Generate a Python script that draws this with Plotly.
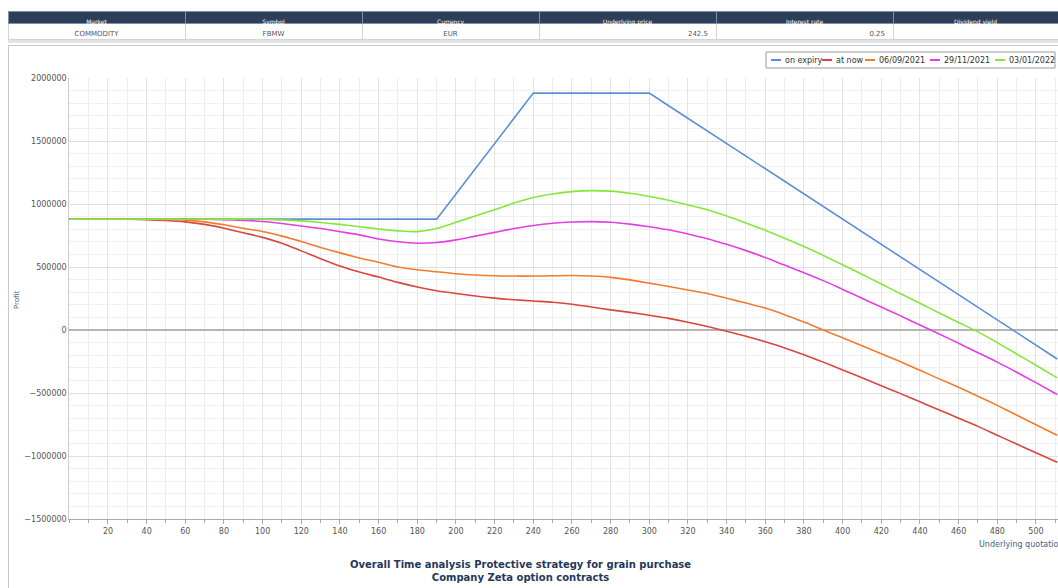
import plotly.graph_objects as go

# ---------------- data ----------------
TABLE_HEADERS = ["Market", "Symbol", "Currency", "Underlying price", "Interest rate", "Dividend yield"]
TABLE_VALUES = ["COMMODITY", "FBMW", "EUR", "242.5", "0.25", ""]

X_QUOT = [0, 10, 20, 30, 40, 50, 60, 70, 80, 90, 100, 110, 120, 130, 140, 150, 160, 170, 180, 190,
          200, 210, 220, 230, 240, 250, 260, 270, 280, 290, 300, 310, 320, 330, 340, 350, 360, 370,
          380, 390, 400, 410, 420, 430, 440, 450, 460, 470, 480, 490, 500, 511]

ON_EXPIRY = [880000, 880000, 880000, 880000, 880000, 880000, 880000, 880000, 880000, 880000,
             880000, 880000, 880000, 880000, 880000, 880000, 880000, 880000, 880000, 880000,
             1080000, 1280000, 1480000, 1680000, 1880000, 1880000, 1880000, 1880000, 1880000, 1880000,
             1880000, 1780000, 1680000, 1580000, 1480000, 1380000, 1280000, 1180000, 1080000, 980000,
             880000, 780000, 680000, 580000, 480000, 380000, 280000, 180000, 80000, -20000,
             -120000, -230000]

AT_NOW = [880000, 880000, 880000, 879000, 876000, 869000, 858000, 838000, 808000, 772000,
          735000, 688000, 628000, 566000, 508000, 460000, 420000, 378000, 342000, 312000,
          290000, 270000, 253000, 240000, 230000, 220000, 205000, 182000, 160000, 140000,
          117000, 92000, 62000, 28000, -10000, -50000, -94000, -142000, -196000, -255000,
          -317000, -379000, -442000, -505000, -570000, -635000, -700000, -765000, -835000, -905000,
          -975000, -1050000]

D_06_09_2021 = [880000, 880000, 880000, 880000, 879000, 877000, 872000, 858000, 835000, 807000,
                782000, 745000, 702000, 655000, 612000, 572000, 537000, 500000, 478000, 462000,
                447000, 436000, 430000, 428000, 428000, 430000, 432000, 428000, 418000, 398000,
                372000, 345000, 318000, 290000, 252000, 214000, 174000, 122000, 63000, 0,
                -62000, -125000, -188000, -252000, -320000, -388000, -455000, -525000, -598000, -675000,
                -752000, -835000]

D_29_11_2021 = [880000, 880000, 880000, 880000, 880000, 880000, 880000, 879000, 876000, 870000,
                861000, 845000, 826000, 805000, 780000, 755000, 722000, 700000, 689000, 694000,
                715000, 745000, 775000, 805000, 830000, 847000, 857000, 860000, 855000, 840000,
                820000, 795000, 762000, 725000, 680000, 630000, 575000, 515000, 455000, 392000,
                322000, 252000, 182000, 112000, 40000, -32000, -105000, -180000, -255000, -335000,
                -418000, -512000]

D_03_01_2022 = [880000, 880000, 880000, 880000, 880000, 880000, 880000, 880000, 880000, 880000,
                878000, 874000, 866000, 853000, 838000, 820000, 802000, 787000, 781000, 805000,
                855000, 905000, 955000, 1008000, 1052000, 1080000, 1098000, 1106000, 1102000, 1085000,
                1060000, 1030000, 992000, 955000, 905000, 850000, 792000, 728000, 662000, 592000,
                518000, 442000, 365000, 288000, 212000, 135000, 60000, -15000, -100000, -190000,
                -280000, -380000]

SERIES_NAMES = ["on expiry", "at now", "06/09/2021", "29/11/2021", "03/01/2022"]
SERIES_VALUES = [ON_EXPIRY, AT_NOW, D_06_09_2021, D_29_11_2021, D_03_01_2022]
SERIES_COLORS = ["#5b8fd8", "#d8463f", "#f27c2c", "#e43ee4", "#86e63a"]

X_TICKS = list(range(20, 501, 20))
Y_TICKS = [-1500000, -1000000, -500000, 0, 500000, 1000000, 1500000, 2000000]

TITLE_LINES = ["Overall Time analysis Protective strategy for grain purchase",
               "Company Zeta option contracts"]

# ---------------- layout constants (pixels of the 1058x588 page) ----------------
W, H = 1058, 588
FONT = "DejaVu Sans"


def px(x):
    return x / W


def py(y):
    return 1 - y / H


fig = go.Figure()

# header table
fig.add_trace(go.Table(
    domain=dict(x=[px(8), 1.0], y=[py(40), py(11)]),
    columnwidth=[177, 177, 177, 177, 177, 165],
    header=dict(values=TABLE_HEADERS, fill_color="#2d3e58", line_color="#7d8ea6",
                font=dict(family=FONT, size=6, color="white"), height=12, align="center"),
    cells=dict(values=[[v] for v in TABLE_VALUES], fill_color="white", line_color="#cfd5dd",
               font=dict(family=FONT, size=7, color="#555555"), height=16,
               align=["center", "center", "center", "right", "right", "right"]),
))

for name, vals, col in zip(SERIES_NAMES, SERIES_VALUES, SERIES_COLORS):
    fig.add_trace(go.Scatter(
        x=X_QUOT, y=vals, name=name, mode="lines",
        line=dict(color=col, width=1.6, shape="linear" if name == "on expiry" else "spline", smoothing=0.8),
        showlegend=False,
    ))

fig.update_layout(
    width=W, height=H,
    margin=dict(l=0, r=0, t=0, b=0, pad=0, autoexpand=False),
    paper_bgcolor="white", plot_bgcolor="white",
    font=dict(family=FONT, size=8, color="#555555"),
    showlegend=False,
    xaxis=dict(
        automargin=False,
        domain=[px(69.3), 1.0], range=[0, (1058 - 69.3) / 1.9333],
        tickvals=X_TICKS, ticks="outside", ticklen=4, tickcolor="#aaaaaa",
        showline=True, linecolor="#aaaaaa", linewidth=1,
        showgrid=True, gridcolor="#e3e3e3", gridwidth=1,
        minor=dict(dtick=10, tick0=0, showgrid=True, gridcolor="#ececec", ticks="outside",
                   ticklen=3, tickcolor="#aaaaaa"),
        tickfont=dict(size=8, color="#555555"), zeroline=False,
    ),
    yaxis=dict(
        automargin=False,
        domain=[py(519), py(78)], range=[-1500000, 2000000],
        tickvals=Y_TICKS, tickformat="d", ticks="", showline=True, linecolor="#cccccc",
        showgrid=True, gridcolor="#e0e0e0", gridwidth=1,
        minor=dict(dtick=100000, showgrid=True, gridcolor="#f1f1f1"),
        zeroline=True, zerolinecolor="#b5b5b5", zerolinewidth=1.5,
        tickfont=dict(size=8, color="#555555"),
    ),
)

shapes = [
    # strip under the header table
    dict(type="rect", xref="paper", yref="paper", x0=px(8), x1=1.0, y0=py(43), y1=py(40),
         line=dict(width=0), fillcolor="#e3e3e3"),
    # outer frame of the chart panel
    dict(type="line", xref="paper", yref="paper", x0=px(8.5), x1=px(8.5), y0=py(45), y1=0,
         line=dict(color="#c8c8c8", width=1)),
    dict(type="line", xref="paper", yref="paper", x0=px(8), x1=1.0, y0=py(45.5), y1=py(45.5),
         line=dict(color="#c8c8c8", width=1)),
    # legend box
    dict(type="rect", xref="paper", yref="paper", x0=px(766), x1=px(1055), y0=py(68), y1=py(52),
         line=dict(color="#999999", width=1), fillcolor="white"),
]

annotations = []
LEG_LINE_X = [771, 822, 865, 930, 995]
for i, (name, col) in enumerate(zip(SERIES_NAMES, SERIES_COLORS)):
    x0 = LEG_LINE_X[i]
    shapes.append(dict(type="line", xref="paper", yref="paper", x0=px(x0), x1=px(x0 + 10),
                       y0=py(60), y1=py(60), line=dict(color=col, width=2)))
    annotations.append(dict(xref="paper", yref="paper", x=px(x0 + 12), y=py(60), text=name,
                            showarrow=False, xanchor="left", yanchor="middle",
                            font=dict(family=FONT, size=8, color="#333333")))

# axis titles
annotations.append(dict(xref="paper", yref="paper", x=px(977), y=py(544), text="Underlying quotation",
                        showarrow=False, xanchor="left", yanchor="middle",
                        font=dict(family=FONT, size=8, color="#4a6185")))
annotations.append(dict(xref="paper", yref="paper", x=px(17), y=py(300), text="Profit", textangle=-90,
                        showarrow=False, xanchor="center", yanchor="middle",
                        font=dict(family=FONT, size=7, color="#4a6185")))
# title
annotations.append(dict(xref="paper", yref="paper", x=px(520), y=py(571),
                        text="<br>".join("<b>%s</b>" % t for t in TITLE_LINES),
                        showarrow=False, xanchor="center", yanchor="middle",
                        font=dict(family=FONT, size=10, color="#24385a")))

fig.update_layout(shapes=shapes, annotations=annotations)

# the page body's default 8px margin would push the fixed-size figure past the window
fig.write_html("out.html", config={"displayModeBar": False},
               post_script="document.body.style.margin='0';document.body.style.overflow='hidden';")
